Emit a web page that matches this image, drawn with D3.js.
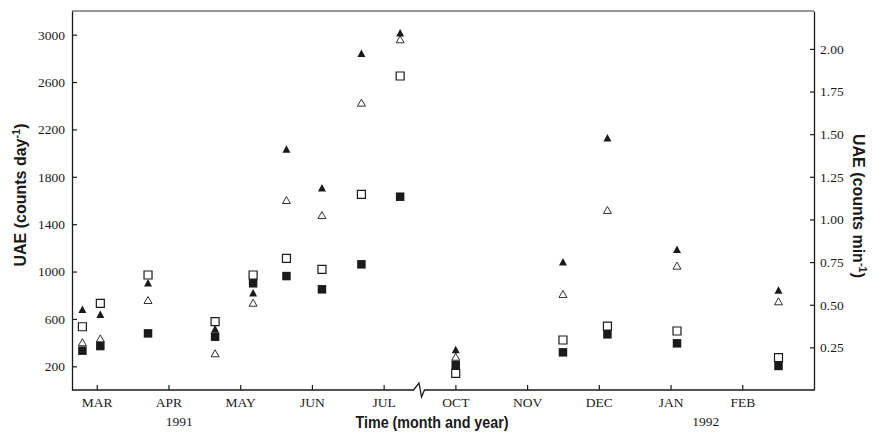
<!DOCTYPE html>
<html>
<head>
<meta charset="utf-8">
<script src="https://cdn.jsdelivr.net/npm/d3@7"></script>
<style>
  html, body { margin: 0; padding: 0; background: #fff; }
  svg { display: block; }
</style>
</head>
<body>
<svg id="chart" width="872" height="433"></svg>
<script>
// ---------- data ----------
const months = ["MAR", "APR", "MAY", "JUN", "JUL", "OCT", "NOV", "DEC", "JAN", "FEB"];
const monthPos = [0, 1, 2, 3, 4, 5, 6, 7, 8, 9];
const yearLabels = ["1991", "1992"];
const yearPos = [1.15, 8.49];
const breakPos = 4.5;

// sampling times (in month units on the broken axis)
const sampleTime = [-0.2, 0.05, 0.715, 1.65, 2.18, 2.645, 3.14, 3.69, 4.23, 5.005, 6.5, 7.12, 8.09, 9.505];
const filledTri = [681, 639, 906, 518, 822, 2035, 1708, 2843, 3017, 343, 1083, 2130, 1188, 844];
const openTri   = [403, 436, 760, 310, 737, 1604, 1477, 2426, 2961, 281, 811, 1520, 1050, 749];
const openSq    = [534, 732, 971, 577, 971, 1112, 1019, 1652, 2651, 141, 422, 540, 498, 273];
const filledSq  = [332, 371, 478, 450, 901, 962, 850, 1061, 1632, 211, 318, 470, 394, 203];

const leftTicks = [200, 600, 1000, 1400, 1800, 2200, 2600, 3000];
const rightTicks = [0.25, 0.5, 0.75, 1.0, 1.25, 1.5, 1.75, 2.0];

// ---------- layout ----------
const svg = d3.select("#chart");
const L = 72, R = 814, T = 11, B = 390;

const x = d3.scaleLinear().domain([-0.345, 10.0]).range([L, R]);
const yL = d3.scaleLinear().domain([0, 3200]).range([B, T]);
const yR = d3.scaleLinear().domain([0, 3200 / 1440]).range([B, T]);

const serif = "'Liberation Serif', 'Times New Roman', serif";
const sans = "'Liberation Sans', Arial, sans-serif";
const ink = "#1a1a1a";

// frame top
svg.append("line").attr("x1", L).attr("x2", R).attr("y1", T).attr("y2", T)
  .attr("stroke", "#333").attr("stroke-width", 1.2);

// left axis
const gL = svg.append("g").attr("transform", `translate(${L},0)`)
  .call(d3.axisLeft(yL).tickValues(leftTicks).tickSizeInner(-5).tickSizeOuter(0).tickPadding(7).tickFormat(d3.format("d")));
// right axis
const gR = svg.append("g").attr("transform", `translate(${R},0)`)
  .call(d3.axisRight(yR).tickValues(rightTicks).tickSizeInner(-4).tickSizeOuter(0).tickPadding(6).tickFormat(d3.format(".2f")));
// bottom axis (ticks + labels; domain drawn separately with break)
const gB = svg.append("g").attr("transform", `translate(0,${B})`)
  .call(d3.axisBottom(x).tickValues(monthPos).tickSizeInner(-5).tickSizeOuter(0).tickPadding(7)
    .tickFormat((d, i) => months[i]));
gB.select(".domain").remove();

[gL, gR, gB].forEach(g => {
  g.selectAll("text").attr("font-family", serif).attr("font-size", 13.5).attr("fill", ink);
  g.selectAll("line").attr("stroke", ink).attr("stroke-width", 1.2);
  g.selectAll(".domain").attr("stroke", ink).attr("stroke-width", 1.3);
});

// bottom axis line with break mark
const bx = x(breakPos);
const baseLine = d3.line();
svg.append("path")
  .attr("d", baseLine([[L, B], [bx - 6, B], [bx - 0.5, B - 7], [bx + 2, B + 7], [bx + 5, B], [R, B]]))
  .attr("fill", "none").attr("stroke", ink).attr("stroke-width", 1.3);

// year labels
svg.selectAll("text.year").data(yearLabels).join("text")
  .attr("class", "year")
  .attr("x", (d, i) => x(yearPos[i])).attr("y", 426)
  .attr("text-anchor", "middle")
  .attr("font-family", serif).attr("font-size", 13.5).attr("fill", ink)
  .text(d => d);

// axis titles
svg.append("text")
  .attr("x", 432).attr("y", 428)
  .attr("text-anchor", "middle")
  .attr("font-family", sans).attr("font-weight", "bold").attr("font-size", 16).attr("fill", ink)
  .attr("textLength", 153).attr("lengthAdjust", "spacingAndGlyphs")
  .text("Time (month and year)");

const tl = svg.append("text")
  .attr("transform", "translate(26,195) rotate(-90)")
  .attr("text-anchor", "middle")
  .attr("font-family", sans).attr("font-weight", "bold").attr("font-size", 16).attr("fill", ink);
tl.append("tspan").text("UAE (counts day");
tl.append("tspan").attr("dy", -6).attr("font-size", 11).text("-1");
tl.append("tspan").attr("dy", 6).text(")");

const tr = svg.append("text")
  .attr("transform", "translate(853,206) rotate(90)")
  .attr("text-anchor", "middle")
  .attr("font-family", sans).attr("font-weight", "bold").attr("font-size", 16).attr("fill", ink);
tr.append("tspan").text("UAE (counts min");
tr.append("tspan").attr("dy", -6).attr("font-size", 11).text("-1");
tr.append("tspan").attr("dy", 6).text(")");

// ---------- markers ----------
function triPath(w, h) {
  return `M0,${-h / 2}L${w / 2},${h / 2}L${-w / 2},${h / 2}Z`;
}
function sqPath(s) {
  return `M${-s / 2},${-s / 2}H${s / 2}V${s / 2}H${-s / 2}Z`;
}
function plot(values, path, fill, stroke, sw) {
  svg.append("g").selectAll("path").data(values).join("path")
    .attr("transform", (d, i) => `translate(${x(sampleTime[i])},${yL(d)})`)
    .attr("d", path)
    .attr("fill", fill).attr("stroke", stroke).attr("stroke-width", sw);
}
plot(openSq, sqPath(8), "#fff", ink, 1.2);
plot(openTri, triPath(8, 7), "#fff", ink, 0.9);
plot(filledSq, sqPath(8.5), ink, "none", 0);
plot(filledTri, triPath(8, 7.5), ink, "none", 0);
</script>
</body>
</html>
